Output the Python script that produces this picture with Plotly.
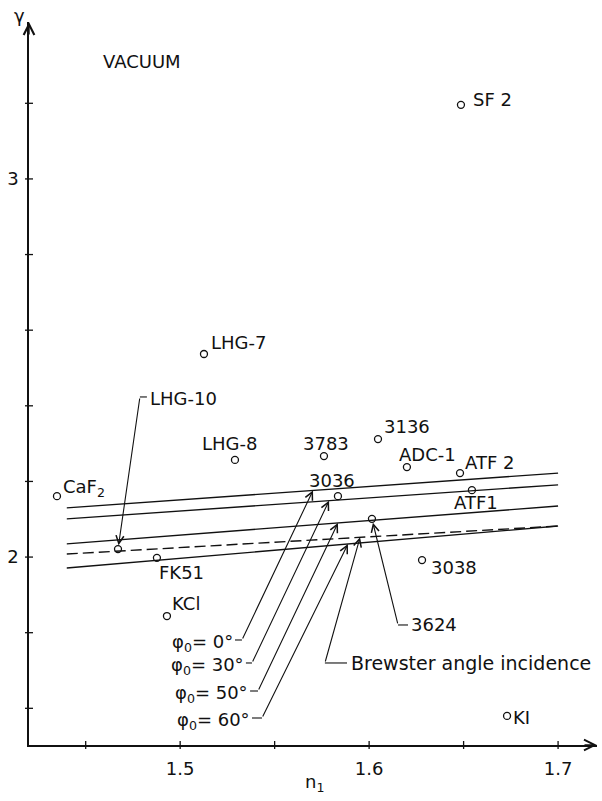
import numpy as np
import plotly.graph_objects as go

# ---- data: refractive index n1 and gamma for each material ----
materials = ["SF 2", "LHG-7", "LHG-8", "LHG-10", "CaF<sub>2</sub>", "3783", "3136", "ADC-1",
             "ATF 2", "ATF1", "3036", "3624", "FK51", "KCl", "3038", "KI"]
n1_values = [1.6486, 1.5126, 1.5290, 1.4671, 1.4348, 1.5761, 1.6047, 1.6200,
             1.6481, 1.6544, 1.5835, 1.6015, 1.4877, 1.4930, 1.6280, 1.6730]
gamma_values = [3.196, 2.537, 2.257, 2.021, 2.161, 2.267, 2.312, 2.238,
                2.222, 2.177, 2.161, 2.101, 1.998, 1.844, 1.992, 1.580]

# ---- data: limiting lines for several angles of incidence ----
n1_line = [1.44, 1.70]
gamma_phi0 = [2.130, 2.222]
gamma_phi30 = [2.101, 2.191]
gamma_phi50 = [2.035, 2.135]
gamma_phi60 = [1.971, 2.082]
gamma_brewster = [2.008, 2.082]

angle_names = ["φ<sub>0</sub>= 0°", "φ<sub>0</sub>= 30°", "φ<sub>0</sub>= 50°", "φ<sub>0</sub>= 60°"]

# ---- tick labels ----
x_ticks = [1.45, 1.50, 1.55, 1.60, 1.65, 1.70]
x_tick_text = ["", "1.5", "", "1.6", "", "1.7"]
y_ticks = [1.6, 1.8, 2.0, 2.2, 2.4, 2.6, 2.8, 3.0, 3.2]
y_tick_text = ["", "", "2", "", "", "", "", "3", ""]

# ---- layout constants ----
X_RANGE = [1.42, 1.7206]
Y_RANGE = [1.503, 3.415]
FONT = "DejaVu Sans"
INK = "#111111"

fig = go.Figure()

# limiting lines
for g in [gamma_phi0, gamma_phi30, gamma_phi50, gamma_phi60]:
    fig.add_trace(go.Scatter(x=n1_line, y=g, mode="lines",
                             line=dict(color=INK, width=1.4), hoverinfo="skip"))
fig.add_trace(go.Scatter(x=n1_line, y=gamma_brewster, mode="lines",
                         line=dict(color=INK, width=1.4, dash="11px,5px"), hoverinfo="skip"))

# materials
fig.add_trace(go.Scatter(x=n1_values, y=gamma_values, mode="markers",
                         marker=dict(symbol="circle-open", size=7, color=INK,
                                     line=dict(width=1.3, color=INK)),
                         hovertext=materials, hoverinfo="text"))

annotations = []

# material labels: (xanchor, xshift, yshift) in pixels around the circle
label_place = {
    "SF 2": ("left", 10, 5),
    "LHG-7": ("left", 5, 12),
    "LHG-8": ("center", -5, 16),
    "CaF<sub>2</sub>": ("left", 4, 8),
    "3783": ("center", 2, 13),
    "3136": ("left", 4, 13),
    "ADC-1": ("left", -10, 13),
    "ATF 2": ("left", 3, 11),
    "ATF1": ("left", -20, -12),
    "3036": ("center", -6, 16),
    "FK51": ("left", 0, -15),
    "KCl": ("left", 3, 13),
    "3038": ("left", 7, -7),
    "KI": ("left", 4, -2),
}
for name, xv, yv in zip(materials, n1_values, gamma_values):
    if name not in label_place:
        continue
    anchor, dx, dy = label_place[name]
    annotations.append(dict(x=xv, y=yv, xref="x", yref="y", text=name, showarrow=False,
                            xanchor=anchor, yanchor="middle", xshift=dx, yshift=dy,
                            font=dict(family=FONT, size=18, color=INK)))


def line_at(n, g_line):
    return float(np.interp(n, n1_line, g_line))


def leader(tip_x, tip_y, corner_x, corner_y, end_x, label, standoff=0, label_shift=(3, 0),
           anchor="left", size=18):
    """Arrow from a bent leader line to a point, plus its label."""
    annotations.append(dict(x=tip_x, y=tip_y, xref="x", yref="y",
                            ax=corner_x, ay=corner_y, axref="x", ayref="y",
                            text="", showarrow=True, arrowhead=5, arrowsize=1.4,
                            arrowwidth=1.1, arrowcolor=INK, standoff=standoff))
    fig.add_shape(type="line", x0=corner_x, y0=corner_y, x1=end_x, y1=corner_y,
                  xref="x", yref="y", line=dict(color=INK, width=1.1))
    lx = end_x if anchor == "left" else min(corner_x, end_x)
    annotations.append(dict(x=lx, y=corner_y, xref="x", yref="y", text=label,
                            showarrow=False, xanchor=anchor, yanchor="middle",
                            xshift=label_shift[0], yshift=label_shift[1],
                            font=dict(family=FONT, size=size, color=INK)))


# angle of incidence leaders (label sits left of the short dash)
angle_lines = [gamma_phi0, gamma_phi30, gamma_phi50, gamma_phi60]
tip_n = [1.5703, 1.5788, 1.5835, 1.5888]
corner_pos = [(1.5327, 1.7807), (1.5380, 1.7199), (1.5412, 1.6458), (1.5433, 1.5744)]
dash_start = [1.5290, 1.5348, 1.5370, 1.5380]
for name, gl, tn, (cx, cy), ds in zip(angle_names, angle_lines, tip_n, corner_pos, dash_start):
    leader(tn, line_at(tn, gl), cx, cy, ds, name, label_shift=(0, -3), anchor="right")

# Brewster angle incidence
leader(1.5952, line_at(1.5952, gamma_brewster), 1.5766, 1.7199, 1.5883,
       "Brewster angle incidence", label_shift=(2, 0), size=19)

# labelled points reached by a leader
i3624 = materials.index("3624")
leader(n1_values[i3624], gamma_values[i3624], 1.6153, 1.8204, 1.6206, "3624",
       standoff=4, label_shift=(1, 0))
i10 = materials.index("LHG-10")
leader(n1_values[i10], gamma_values[i10], 1.4787, 2.4234, 1.4824, "LHG-10",
       standoff=4, label_shift=(1, -2))

# tick marks crossing both axes
for t in x_ticks:
    fig.add_shape(type="line", xref="x", yref="paper", x0=t, x1=t,
                  ysizemode="pixel", yanchor=0, y0=-4, y1=4,
                  line=dict(color=INK, width=1.3))
for t in y_ticks:
    fig.add_shape(type="line", yref="y", xref="paper", y0=t, y1=t,
                  xsizemode="pixel", xanchor=0, x0=-4, x1=4,
                  line=dict(color=INK, width=1.3))

# axis arrowheads
annotations.append(dict(x=X_RANGE[1], y=Y_RANGE[0], xref="x", yref="y", ax=-14, ay=0,
                        text="", showarrow=True, arrowhead=5, arrowsize=1.5,
                        arrowwidth=1.4, arrowcolor=INK))
annotations.append(dict(x=X_RANGE[0], y=Y_RANGE[1], xref="x", yref="y", ax=0, ay=14,
                        text="", showarrow=True, arrowhead=5, arrowsize=1.5,
                        arrowwidth=1.4, arrowcolor=INK))

# axis titles and heading
annotations.append(dict(x=0, y=1, xref="paper", yref="paper", text="γ", showarrow=False,
                        xanchor="center", yanchor="middle", xshift=-10, yshift=7,
                        font=dict(family=FONT, size=18, color=INK)))
annotations.append(dict(x=0.5035, y=0, xref="paper", yref="paper", text="n<sub>1</sub>",
                        showarrow=False, xanchor="center", yanchor="middle", yshift=-38,
                        font=dict(family=FONT, size=18, color=INK)))
annotations.append(dict(x=0.199, y=0.9447, xref="paper", yref="paper", text="VACUUM",
                        showarrow=False, xanchor="center", yanchor="middle",
                        font=dict(family=FONT, size=18, color=INK)))

axis_common = dict(showgrid=False, zeroline=False, ticks="", linecolor=INK, linewidth=1.5,
                   showline=True, tickmode="array", tickfont=dict(family=FONT, size=18))

fig.update_layout(
    width=602, height=801,
    margin=dict(l=29, r=5, t=22, b=56),
    paper_bgcolor="white", plot_bgcolor="white",
    showlegend=False,
    font=dict(family=FONT, size=18, color=INK),
    xaxis=dict(range=X_RANGE, tickvals=x_ticks, ticktext=x_tick_text, ticklabelstandoff=7,
               **axis_common),
    yaxis=dict(range=Y_RANGE, tickvals=y_ticks, ticktext=y_tick_text, ticklabelstandoff=5,
               **axis_common),
    annotations=annotations,
)

fig.write_html("out.html")
